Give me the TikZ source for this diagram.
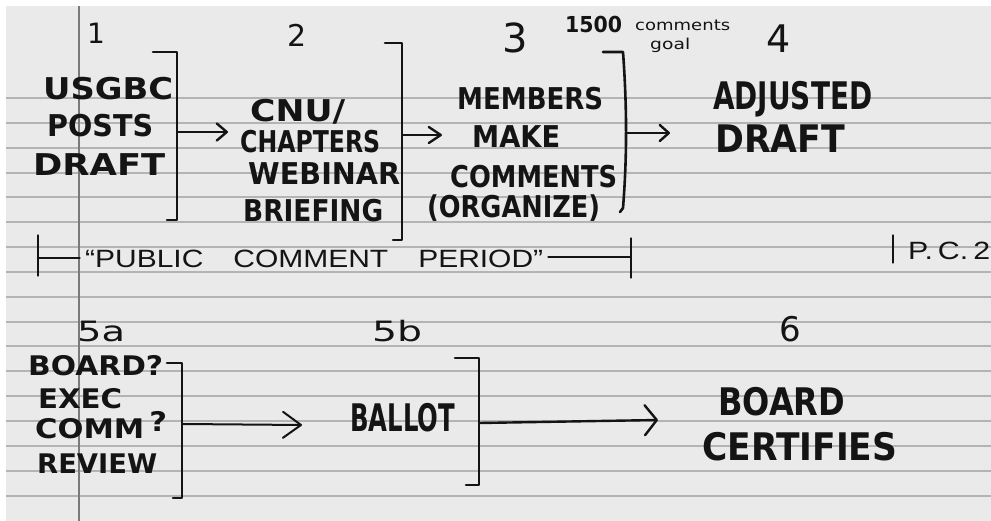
\documentclass[tikz,border=0pt]{standalone}
\usepackage{fontspec}
\usepackage{graphicx}
\usetikzlibrary{arrows.meta}
\newfontfamily\hand{DejaVu Sans}
\newfontfamily\thin{Liberation Sans}
\definecolor{paper}{HTML}{EAEAEA}
\definecolor{ruleclr}{HTML}{B4B4B4}
\definecolor{ink}{HTML}{141414}
\definecolor{marginclr}{HTML}{7A7A7A}
\newsavebox\fwbox
\newlength\fwlen
\newcommand\fw[2]{\sbox\fwbox{#2}\setlength\fwlen{\wd\fwbox}\pgfmathsetmacro\fwfac{#1/\fwlen}\scalebox{\fwfac}[1]{\usebox\fwbox}}
\tikzset{
  bk/.style={font=\hand\bfseries\fontsize{30}{36}\selectfont, text=ink, inner sep=0pt, anchor=base west},
  bkbig/.style={bk, font=\hand\bfseries\fontsize{38}{44}\selectfont},
  bksmall/.style={bk, font=\hand\bfseries\fontsize{27}{32}\selectfont},
  num/.style={text=ink, inner sep=0pt, anchor=base},
  thintext/.style={font=\thin\fontsize{25}{28}\selectfont, text=ink, inner sep=0pt, anchor=base west},
  note/.style={font=\hand\fontsize{15}{18}\selectfont, text=ink, inner sep=0pt, anchor=base west},
  brk/.style={draw=ink, line width=2.6pt, line cap=round, line join=round},
  arr/.style={draw=ink, line width=2.4pt, line cap=round},
  thinline/.style={draw=ink, line width=1.3pt, line cap=round},
  ruleline/.style={draw=ruleclr, line width=2pt},
}
\begin{document}
\begin{tikzpicture}[x=1pt,y=-1pt]
\useasboundingbox (0,0) rectangle (991,521);
\fill[white] (0,0) rectangle (991,521);
\fill[paper] (6,6) rectangle (991,521);
\foreach \k in {0,...,16} \draw[ruleline] (6,{98+24.85*\k}) -- (991,{98+24.85*\k});
\draw[marginclr, line width=1.5pt] (79,6) -- (79,521);

% step numbers
\node[num, font=\hand\fontsize{28}{30}\selectfont] (n1) at (96,44) {1};
\node[num, font=\hand\fontsize{30}{32}\selectfont] (n2) at (297,47) {2};
\node[num, font=\hand\fontsize{40}{44}\selectfont] (n3) at (515,53) {3};
\node[num, font=\hand\fontsize{38}{40}\selectfont] (n4) at (779,53) {4};
\node[num, anchor=base west, font=\hand\fontsize{28}{30}\selectfont] (n5a) at (77,342) {\fw{48}{5a}};
\node[num, anchor=base west, font=\hand\fontsize{28}{30}\selectfont] (n5b) at (372,342) {\fw{50}{5b}};
\node[num, font=\hand\fontsize{34}{36}\selectfont] (n6) at (790,342) {6};

% goal note
\node[note, font=\hand\bfseries\fontsize{22}{24}\selectfont] (g1) at (565,33) {\fw{57}{1500}};
\node[note] (g2) at (635,31) {\fw{95}{comments}};
\node[note] (g3) at (650,50) {\fw{40}{goal}};

% block 1
\node[bk] (t1a) at (43,100) {\fw{130}{USGBC}};
\node[bk] (t1b) at (47,137) {\fw{106}{POSTS}};
\node[bk] (t1c) at (33,176) {\fw{132}{DRAFT}};
% block 2
\node[bk] (t2a) at (250,122) {\fw{95}{CNU/}};
\node[bk] (t2b) at (240,153) {\fw{140}{CHAPTERS}};
\node[bk] (t2c) at (248,185) {\fw{152}{WEBINAR}};
\node[bk] (t2d) at (243,222) {\fw{140}{BRIEFING}};
% block 3
\node[bk] (t3a) at (457,110) {\fw{146}{MEMBERS}};
\node[bk] (t3b) at (472,148) {\fw{88}{MAKE}};
\node[bk] (t3c) at (450,188) {\fw{167}{COMMENTS}};
\node[bk] (t3d) at (427,218) {\fw{173}{(ORGANIZE)}};
% block 4
\node[bkbig] (t4a) at (713,110) {\fw{159}{ADJUSTED}};
\node[bkbig] (t4b) at (715,153) {\fw{130}{DRAFT}};
% block 5a
\node[bksmall] (t5a) at (28,375) {\fw{135}{BOARD?}};
\node[bksmall] (t5b) at (38,408) {\fw{84}{EXEC}};
\node[bksmall] (t5c) at (35,438) {\fw{132}{COMM\,\raisebox{7pt}{?}}};
\node[bksmall] (t5d) at (37,473) {\fw{120}{REVIEW}};
% block 5b
\node[bkbig] (t6) at (350,431) {\fw{105}{BALLOT}};
% block 6
\node[bkbig] (t7a) at (718,415) {\fw{127}{BOARD}};
\node[bkbig] (t7b) at (702,460) {\fw{195}{CERTIFIES}};

% public comment period
\node[thintext] (pc) at (85,268) {\fw{458}{“PUBLIC\quad COMMENT\quad PERIOD”}};
\node[thintext] (pc2) at (908,260) {\fw{82}{P.\,C.\,2}};
\coordinate (pL) at (38,258);
\coordinate (pR) at (631,257);
\draw[thinline] (38,235) -- (38,276);
\draw[thinline] (pL) -- (80,258);
\draw[thinline] (548,257) -- (pR);
\draw[thinline] (631,238) -- (631,278);
\draw[thinline] (893,235) -- (893,263);

% brackets
\draw[brk] (153,52) -- (177,52) -- (177,220) -- (167,220);
\draw[brk] (385,43) -- (402,43) -- (402,240) -- (393,240);
\draw[brk] (603,52) -- (623,52) .. controls (628,120) and (626,170) .. (623,208) -- (620,212);
\draw[brk] (167,363) -- (182,363) -- (182,498) -- (173,498);
\draw[brk] (455,358) -- (479,358) -- (479,485) -- (466,485);

% arrows
\coordinate (a1s) at (178,132); \coordinate (a1e) at (228,132);
\coordinate (a2s) at (403,135); \coordinate (a2e) at (442,135);
\coordinate (a3s) at (627,133); \coordinate (a3e) at (670,133);
\coordinate (a5s) at (183,424); \coordinate (a5e) at (302,425);
\coordinate (a6s) at (480,423); \coordinate (a6e) at (658,420);
\draw[arr, -{Straight Barb[length=10pt,width=17pt,round]}] (a1s) -- (a1e);
\draw[arr, -{Straight Barb[length=12pt,width=16pt,round]}] (a2s) -- (a2e);
\draw[arr, -{Straight Barb[length=9pt,width=16pt,round]}] (a3s) -- (a3e);
\draw[arr, line width=2pt, -{Straight Barb[length=18pt,width=26pt,round]}] (a5s) -- (a5e);
\draw[arr, -{Straight Barb[length=12pt,width=30pt,round]}] (a6s) -- (a6e);
\end{tikzpicture}
\end{document}
